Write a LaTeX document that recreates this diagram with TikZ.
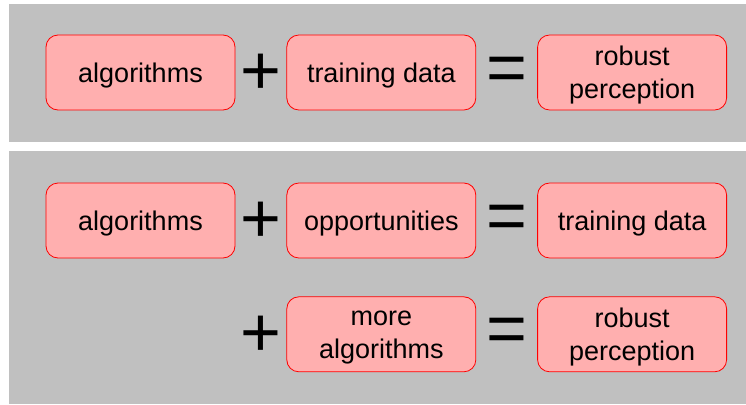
\documentclass[tikz,border=0pt]{standalone}
\usepackage{fontspec}
\usepackage{xcolor}
\usepackage{tikz}
\usetikzlibrary{positioning, calc}
\newfontfamily\diagfont{Liberation Sans}
\definecolor{panelgray}{HTML}{C0C0C0}
\definecolor{termfill}{HTML}{FFAFAF}
\tikzset{
  panel/.style={
    fill=panelgray,
    draw=none
  },
  termbox/.style={
    rectangle,
    draw=red,
    fill=termfill,
    line width=0.8pt,
    rounded corners=12pt,
    minimum width=189pt,
    minimum height=75pt,
    align=center,
    text depth=0pt,
    font=\diagfont\fontsize{27}{33}\selectfont,
    inner sep=2pt
  },
  opsign/.style={
    font=\diagfont\fontsize{70}{70}\selectfont,
    inner sep=0pt,
    yshift=-1.5pt
  }
}

\begin{document}
\begin{tikzpicture}[x=1pt, y=-1pt]
  \useasboundingbox (0,0) rectangle (746,404);
  % the two panels
  \fill[panel] (9,4) rectangle (746,142);
  \fill[panel] (9,151) rectangle (746,404);

  % top panel
  \node[termbox] (alg) at (140.5,72.5) {algorithms};
  \node[termbox, right=51pt of alg] (data) {training data};
  \node[termbox, right=61pt of data] (robust) {robust\\perception};
  \node[opsign] (plus) at ($(alg.east)!0.5!(data.west)$) {+};
  \node[opsign] (eq) at ($(data.east)!0.5!(robust.west)$) {=};

  % bottom panel, first row
  \node[termbox] (algb) at (140.5,220.5) {algorithms};
  \node[termbox, right=51pt of algb] (opp) {opportunities};
  \node[termbox, right=61pt of opp] (datab) {training data};
  \node[opsign] (plusb) at ($(algb.east)!0.5!(opp.west)$) {+};
  \node[opsign] (eqb) at ($(opp.east)!0.5!(datab.west)$) {=};

  % bottom panel, second row
  \node[termbox, below=38pt of opp] (morealg) {more\\algorithms};
  \node[termbox, below=38pt of datab] (robustb) {robust\\perception};
  \node[opsign] (plusc) at ($(plusb)+(0,113)$) {+};
  \node[opsign] (eqc) at ($(morealg.east)!0.5!(robustb.west)$) {=};
\end{tikzpicture}
\end{document}
